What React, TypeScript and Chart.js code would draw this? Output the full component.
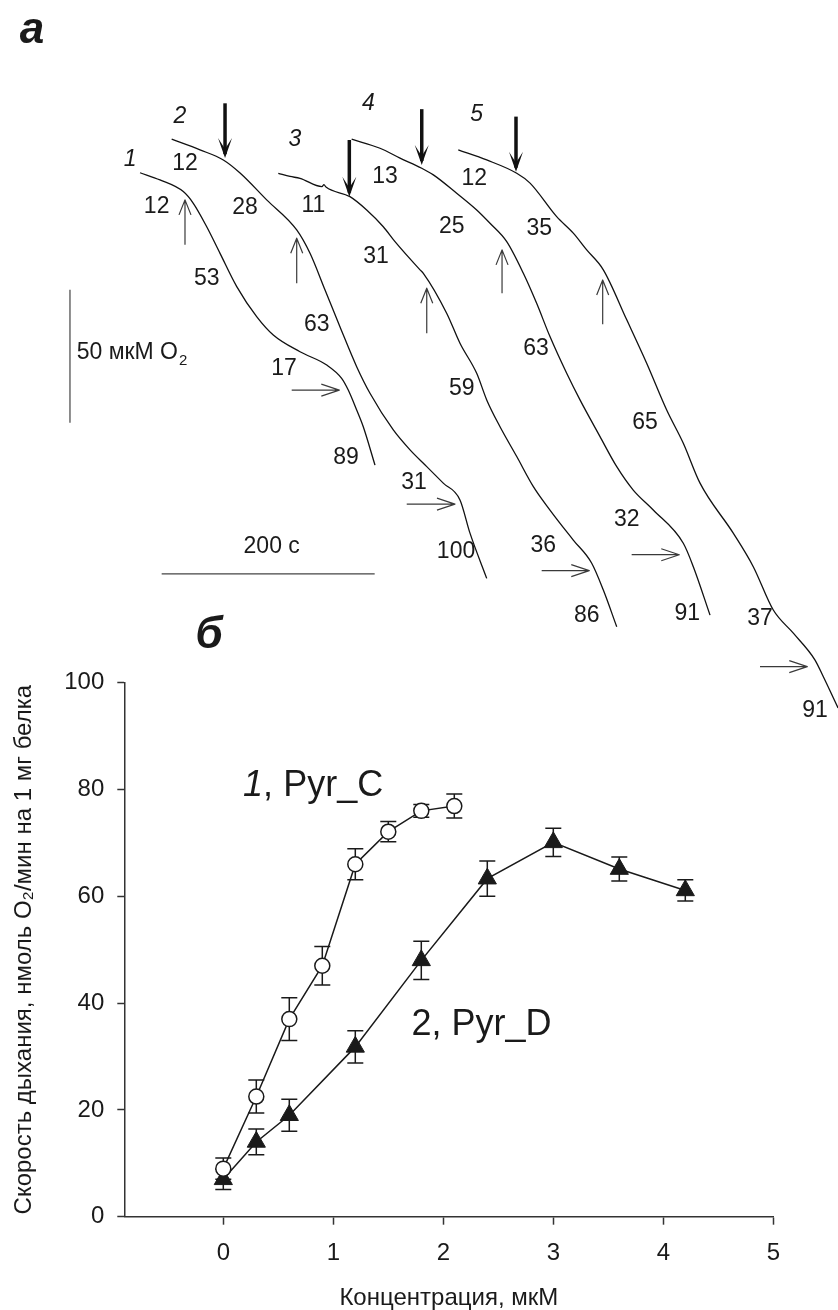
import React, { useEffect, useRef } from 'react';
import { Chart, registerables } from 'chart.js';

Chart.register(...registerables);

const FONT = '"Liberation Sans", Arial, Helvetica, sans-serif';
const INK = '#1a1a1a';

// ---------- panel б : respiration rate vs concentration ----------
const concC = [0, 0.3, 0.6, 0.9, 1.2, 1.5, 1.8, 2.1];
const rateC = [9, 22.5, 37, 47, 66, 72.1, 76, 76.9];
const errC = [2, 3.1, 4, 3.6, 2.9, 1.9, 1.2, 2.25];

const concD = [0, 0.3, 0.6, 1.2, 1.8, 2.4, 3.0, 3.6, 4.2];
const rateD = [7, 14, 19, 31.8, 48, 63.3, 70.1, 65.1, 61.1];
const errD = [1.9, 2.4, 3, 3, 3.6, 3.3, 2.65, 2.25, 2];

const xTickValues = [0, 1, 2, 3, 4, 5];
const xAxisTitle = 'Концентрация, мкМ';
const yAxisTitle = 'Скорость дыхания, нмоль O₂/мин на 1 мг белка';
const seriesCNum = '1';
const seriesCName = ', Pyr_C';
const seriesDName = '2, Pyr_D';

// ---------- panel а : oxygraph traces (time, s ; O2, µM, arbitrary offset) ----------
const trace1Time = [131.5, 150.2, 172.1, 181.5, 194.1, 206.6, 222.3, 241.0, 256.6, 281.7, 306.8, 320.8, 327.0, 334.9, 341.1, 352.1];
const trace1O2 = [209.5, 206.8, 202.4, 198.0, 189.2, 179.2, 166.7, 155.4, 148.5, 142.2, 137.2, 132.2, 127.8, 120.3, 114.0, 99.6];

const trace2Time = [161.2, 187.8, 209.7, 225.4, 250.4, 278.6, 291.1, 305.2, 319.2, 334.9, 347.4, 369.3, 385.0, 400.7, 416.2, 431.9, 441.3, 457.0];
const trace2O2 = [222.1, 218.1, 214.3, 209.4, 199.3, 188.0, 179.2, 165.4, 151.6, 136.6, 126.6, 112.8, 105.3, 99.0, 92.8, 86.5, 74.0, 57.0];

const trace3Time = [261.3, 272.3, 281.7, 302.3, 304.2, 306.1, 328.6, 344.3, 359.9, 370.9, 394.4, 397.5, 419.4, 431.9, 447.6, 457.0, 469.5, 485.2, 500.8, 516.4, 538.3, 555.6, 566.5, 579.1];
const trace3O2 = [209.3, 208.1, 207.4, 204.3, 205.0, 204.1, 200.5, 195.5, 189.2, 183.6, 173.0, 171.7, 156.7, 145.4, 134.1, 124.1, 114.0, 102.8, 91.5, 82.7, 71.4, 62.7, 52.6, 38.8];

const trace4Time = [330.2, 356.8, 375.6, 396.0, 406.9, 428.8, 447.6, 460.1, 475.8, 491.4, 503.9, 516.4, 532.1, 544.6, 563.4, 579.1, 594.6, 613.4, 641.6, 651.0, 666.7];
const trace4O2 = [222.1, 218.7, 215.0, 211.2, 208.7, 201.8, 195.5, 190.5, 183.6, 171.7, 160.4, 147.9, 134.1, 124.1, 110.3, 99.0, 90.2, 82.7, 70.2, 61.4, 43.2];

const trace5Time = [430.3, 457.0, 485.2, 497.7, 522.7, 538.3, 550.9, 566.5, 588.5, 607.2, 626.0, 641.6, 657.3, 688.5, 707.3, 726.1, 744.9, 765.3, 773.1, 786.9];
const trace5O2 = [218.1, 214.3, 209.3, 205.6, 193.0, 186.8, 180.5, 173.0, 154.2, 137.9, 120.3, 107.8, 92.8, 74.0, 61.4, 45.1, 36.4, 26.3, 20.0, 8.3];

const traceNames = ['1', '2', '3', '4', '5'];
const traceNameTime = [122.1, 169.0, 277.0, 345.8, 447.6];
const traceNameO2 = [214.3, 230.6, 221.8, 235.6, 231.2];

// thick arrows (substrate addition), pointing down
const addArrowTime = [211.3, 328.0, 396.0, 484.5];
const addArrowTopO2 = [235.6, 221.8, 233.4, 230.6];
const addArrowTipO2 = [215.0, 200.5, 212.4, 209.9];

// thin upward arrows
const upArrowTime = [173.7, 278.6, 400.7, 471.4, 565.9];
const upArrowTailO2 = [182.4, 168.0, 149.2, 164.2, 152.5];
const upArrowTipO2 = [199.3, 184.9, 166.1, 180.5, 169.2];

// thin rightward arrows
const rightArrowFromTime = [273.9, 381.9, 508.6, 593.1, 713.6];
const rightArrowToTime = [318.6, 427.2, 553.3, 637.8, 758.0];
const rightArrowO2 = [127.8, 84.9, 59.9, 65.9, 23.8];

// rate numbers written beside traces
const rateLabels = ['12', '12', '28', '11', '13', '12', '53', '63', '31', '25', '35', '63', '59', '17', '65', '89', '31', '100', '36', '32', '86', '91', '37', '91'];
const rateLabelTime = [147.1, 173.7, 230.0, 294.2, 361.5, 445.4, 194.1, 297.4, 353.1, 424.1, 506.4, 503.3, 433.5, 266.7, 605.6, 324.9, 388.7, 428.2, 510.1, 588.5, 550.9, 645.4, 713.6, 765.3];
const rateLabelO2 = [196.8, 213.1, 196.2, 197.0, 208.1, 207.4, 169.8, 152.3, 178.0, 189.2, 188.6, 143.5, 128.5, 135.7, 115.5, 102.2, 93.0, 67.0, 69.3, 79.2, 42.9, 43.9, 42.0, 7.1];

// scale bars
const o2BarTime = [65.7, 65.7];
const o2BarO2 = [115.5, 165.5];
const o2BarLabel = '50 мкМ O';
const o2BarLabelSub = '2';
const o2BarLabelTime = 72.0;
const o2BarLabelO2 = 141.8;
const timeBarTime = [151.8, 351.8];
const timeBarO2 = [58.7, 58.7];
const timeBarLabel = '200 с';
const timeBarLabelTime = 255.1;
const timeBarLabelO2 = 68.9;

const traceTimeMax = 786.85;
const traceO2Max = 274.44;

const panelA = 'а';
const panelB = 'б';

const toPts = (xs: number[], ys: number[]) => xs.map((x, i) => ({ x, y: ys[i] }));

const errorBarPlugin = {
  id: 'errorBars',
  beforeDatasetsDraw(chart: any) {
    const { ctx, scales } = chart;
    const sets = [
      { xs: concC, ys: rateC, es: errC },
      { xs: concD, ys: rateD, es: errD },
    ];
    ctx.save();
    ctx.strokeStyle = INK;
    ctx.lineWidth = 1.5;
    sets.forEach(({ xs, ys, es }) => {
      xs.forEach((xv, i) => {
        const X = scales.x.getPixelForValue(xv);
        const Yt = scales.y.getPixelForValue(ys[i] + es[i]);
        const Yb = scales.y.getPixelForValue(ys[i] - es[i]);
        ctx.beginPath();
        ctx.moveTo(X, Yt);
        ctx.lineTo(X, Yb);
        ctx.moveTo(X - 8, Yt);
        ctx.lineTo(X + 8, Yt);
        ctx.moveTo(X - 8, Yb);
        ctx.lineTo(X + 8, Yb);
        ctx.stroke();
      });
    });
    ctx.restore();
  },
  afterDraw(chart: any) {
    const { ctx, scales } = chart;
    ctx.save();
    ctx.fillStyle = INK;
    ctx.textBaseline = 'alphabetic';
    ctx.textAlign = 'left';
    let X = scales.x.getPixelForValue(0.18);
    let Y = scales.y.getPixelForValue(78.7);
    ctx.font = `italic 36px ${FONT}`;
    ctx.fillText(seriesCNum, X, Y);
    const w = ctx.measureText(seriesCNum).width;
    ctx.font = `36px ${FONT}`;
    ctx.fillText(seriesCName, X + w, Y);
    X = scales.x.getPixelForValue(1.71);
    Y = scales.y.getPixelForValue(34.0);
    ctx.fillText(seriesDName, X, Y);
    // panel letter
    ctx.font = `bold italic 44px ${FONT}`;
    ctx.textAlign = 'center';
    ctx.textBaseline = 'middle';
    ctx.fillText(panelB, 209, 636);
    ctx.restore();
  },
};

const tracePlugin = {
  id: 'traceDecor',
  afterDatasetsDraw(chart: any) {
    const { ctx, scales } = chart;
    const px = (t: number) => scales.x.getPixelForValue(t);
    const py = (o: number) => scales.y.getPixelForValue(o);
    ctx.save();
    // thick addition arrows
    ctx.strokeStyle = '#111';
    ctx.fillStyle = '#111';
    ctx.lineWidth = 3.5;
    ctx.lineJoin = 'miter';
    addArrowTime.forEach((t, i) => {
      const X = px(t);
      const Y0 = py(addArrowTopO2[i]);
      const Y1 = py(addArrowTipO2[i]);
      ctx.beginPath();
      ctx.moveTo(X, Y0);
      ctx.lineTo(X, Y1 - 4);
      ctx.stroke();
      ctx.beginPath();
      ctx.moveTo(X - 7, Y1 - 20);
      ctx.lineTo(X, Y1);
      ctx.lineTo(X + 7, Y1 - 20);
      ctx.lineTo(X, Y1 - 9);
      ctx.closePath();
      ctx.fill();
    });
    // thin arrows
    ctx.strokeStyle = '#3a3a3a';
    ctx.lineWidth = 1.2;
    ctx.lineJoin = 'round';
    upArrowTime.forEach((t, i) => {
      const X = px(t);
      const Yt = py(upArrowTailO2[i]);
      const Yh = py(upArrowTipO2[i]);
      ctx.beginPath();
      ctx.moveTo(X, Yt);
      ctx.lineTo(X, Yh);
      ctx.moveTo(X - 6, Yh + 15);
      ctx.lineTo(X, Yh);
      ctx.lineTo(X + 6, Yh + 15);
      ctx.stroke();
    });
    rightArrowFromTime.forEach((t, i) => {
      const X0 = px(t);
      const X1 = px(rightArrowToTime[i]);
      const Y = py(rightArrowO2[i]);
      ctx.beginPath();
      ctx.moveTo(X0, Y);
      ctx.lineTo(X1, Y);
      ctx.moveTo(X1 - 18, Y - 6);
      ctx.lineTo(X1, Y);
      ctx.lineTo(X1 - 18, Y + 6);
      ctx.stroke();
    });
    // texts
    ctx.fillStyle = INK;
    ctx.textAlign = 'center';
    ctx.textBaseline = 'middle';
    ctx.font = `23px ${FONT}`;
    rateLabels.forEach((s, i) => ctx.fillText(s, px(rateLabelTime[i]), py(rateLabelO2[i])));
    ctx.font = `italic 23px ${FONT}`;
    traceNames.forEach((s, i) => ctx.fillText(s, px(traceNameTime[i]), py(traceNameO2[i])));
    ctx.font = `23px ${FONT}`;
    ctx.fillText(timeBarLabel, px(timeBarLabelTime), py(timeBarLabelO2));
    ctx.textAlign = 'left';
    const lx = px(o2BarLabelTime);
    const ly = py(o2BarLabelO2);
    ctx.fillText(o2BarLabel, lx, ly);
    const lw = ctx.measureText(o2BarLabel).width;
    ctx.font = `15px ${FONT}`;
    ctx.fillText(o2BarLabelSub, lx + lw + 1, ly + 8);
    // panel letter
    ctx.font = `bold italic 44px ${FONT}`;
    ctx.textAlign = 'center';
    ctx.fillText(panelA, 32, 31);
    ctx.restore();
  },
};

export default function App() {
  const topRef = useRef<HTMLCanvasElement>(null);
  const botRef = useRef<HTMLCanvasElement>(null);

  useEffect(() => {
    const tickFont = { family: FONT, size: 24 };
    const chartB = new Chart(botRef.current as HTMLCanvasElement, {
      type: 'scatter',
      data: {
        datasets: [
          {
            data: toPts(concC, rateC),
            showLine: true,
            borderColor: INK,
            borderWidth: 1.5,
            pointStyle: 'circle',
            pointRadius: 7.5,
            pointBackgroundColor: '#ffffff',
            pointBorderColor: INK,
            pointBorderWidth: 1.5,
          },
          {
            data: toPts(concD, rateD),
            showLine: true,
            borderColor: INK,
            borderWidth: 1.5,
            pointStyle: 'triangle',
            pointRadius: 10.5,
            pointBackgroundColor: INK,
            pointBorderColor: INK,
            pointBorderWidth: 1,
          },
        ],
      },
      options: {
        animation: false,
        responsive: false,
        events: [],
        layout: { padding: { top: 682.7, right: 64.7, left: 0, bottom: 0 } },
        plugins: { legend: { display: false }, tooltip: { enabled: false } },
        scales: {
          x: {
            type: 'linear',
            min: -0.9,
            max: 5,
            afterBuildTicks: (s: any) => {
              s.ticks = xTickValues.map((v) => ({ value: v }));
            },
            afterFit: (s: any) => {
              s.height = 93.3;
            },
            grid: { display: true, drawOnChartArea: false, drawTicks: true, tickLength: 8, tickWidth: 1.5, tickColor: '#333', color: '#333' },
            border: { display: true, color: '#333', width: 1.5 },
            ticks: { color: INK, font: tickFont, padding: 14, autoSkip: false, maxRotation: 0 },
            title: { display: true, text: xAxisTitle, color: INK, font: { family: FONT, size: 24, lineHeight: 1 }, padding: { top: 0, bottom: 0 } },
          },
          y: {
            type: 'linear',
            min: 0,
            max: 100,
            afterFit: (s: any) => {
              s.width = 124.3;
            },
            grid: { display: true, drawOnChartArea: false, drawTicks: true, tickLength: 7, tickWidth: 1.5, tickColor: '#333', color: '#333' },
            border: { display: true, color: '#333', width: 1.5 },
            ticks: { color: INK, font: tickFont, padding: 13, stepSize: 20 },
            title: { display: true, text: yAxisTitle, color: INK, font: { family: FONT, size: 24, lineHeight: 1 }, padding: { top: 12, bottom: 0 } },
          },
        },
      } as any,
      plugins: [errorBarPlugin],
    });

    const traceSets = [
      [trace1Time, trace1O2],
      [trace2Time, trace2O2],
      [trace3Time, trace3O2],
      [trace4Time, trace4O2],
      [trace5Time, trace5O2],
    ];
    const chartA = new Chart(topRef.current as HTMLCanvasElement, {
      type: 'scatter',
      data: {
        datasets: [
          ...traceSets.map(([t, o]) => ({
            data: toPts(t, o),
            showLine: true,
            pointRadius: 0,
            borderColor: '#111',
            borderWidth: 1.3,
            cubicInterpolationMode: 'monotone',
          })),
          { data: toPts(o2BarTime, o2BarO2), showLine: true, pointRadius: 0, borderColor: '#444', borderWidth: 1.2 },
          { data: toPts(timeBarTime, timeBarO2), showLine: true, pointRadius: 0, borderColor: '#444', borderWidth: 1.2 },
        ],
      },
      options: {
        animation: false,
        responsive: false,
        events: [],
        layout: { padding: 0 },
        plugins: { legend: { display: false }, tooltip: { enabled: false } },
        scales: {
          x: { type: 'linear', display: false, min: 0, max: traceTimeMax },
          y: { type: 'linear', display: false, min: 0, max: traceO2Max },
        },
      } as any,
      plugins: [tracePlugin],
    });

    return () => {
      chartA.destroy();
      chartB.destroy();
    };
  }, []);

  return (
    <div style={{ position: 'absolute', left: 0, top: 0, width: 838, height: 1310, background: '#ffffff' }}>
      <canvas ref={botRef} width={838} height={1310} style={{ position: 'absolute', left: 0, top: 0 }} />
      <canvas ref={topRef} width={838} height={730} style={{ position: 'absolute', left: 0, top: 0 }} />
    </div>
  );
}
